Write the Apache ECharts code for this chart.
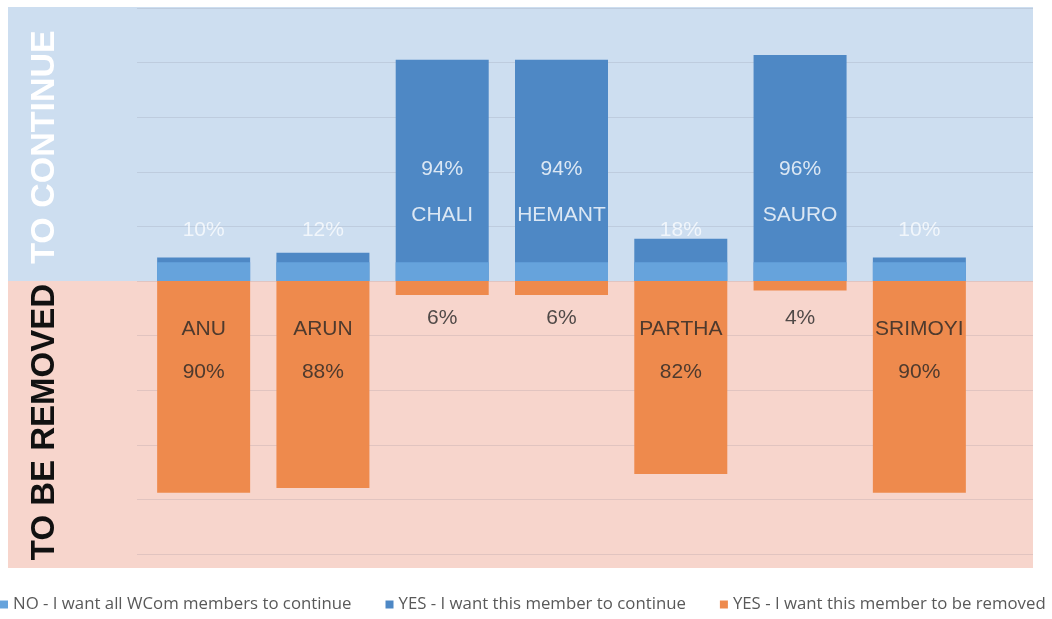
<!DOCTYPE html>
<html>
<head>
<meta charset="utf-8">
<script src="https://cdn.jsdelivr.net/npm/echarts@6/dist/echarts.min.js"></script>
<style>
    html, body { margin: 0; padding: 0; background: #fff; }
    #main { width: 1052px; height: 619px; }
</style>
</head>
<body>
<div id="main"></div>
<script>
// members
var members = ['ANU', 'ARUN', 'CHALI', 'HEMANT', 'PARTHA', 'SAURO', 'SRIMOYI'];
// YES - continue (%)
var continuePct = [10, 12, 94, 94, 18, 96, 10];
// YES - removed (%)
var removePct = [90, 88, 6, 6, 82, 4, 90];
// NO - all continue (light blue strip)
var noPct = [8, 8, 8, 8, 8, 8, 8];

var seriesNames = [
    'NO - I want all WCom members to continue',
    'YES - I want this member to continue',
    'YES - I want this member to be removed'
];

var colLight = '#66a3dc';
var colBlue = '#4e88c5';
var colOrange = '#ee8a4d';
var bgBlue = '#cddef0';
var bgPink = '#f7d5cc';

// label rows, in axis units
var rowBigPct = 47.4, rowBigName = 28, rowSmallPct = 21.7;
var rowOrangeSmall = -15.7, rowOrangeName = -20.6, rowOrangePct = -38.7;

var labelFont = {
    fontFamily: 'Liberation Sans, Arial, sans-serif',
    fontSize: 21
};

function labelPoint(i, y, text, color) {
    return {
        value: [members[i], y],
        label: Object.assign({ show: true, position: 'inside', formatter: text, color: color }, labelFont)
    };
}

var labelData = [];
members.forEach(function(m, i) {
    if (continuePct[i] > removePct[i]) {
        labelData.push(labelPoint(i, rowBigPct, continuePct[i] + '%', '#fff'));
        labelData.push(labelPoint(i, rowBigName, m, '#fff'));
        labelData.push(labelPoint(i, rowOrangeSmall, removePct[i] + '%', '#262626'));
    } else {
        labelData.push(labelPoint(i, rowSmallPct, continuePct[i] + '%', 'rgba(255,255,255,0.9)'));
        labelData.push(labelPoint(i, rowOrangeName, m, '#262626'));
        labelData.push(labelPoint(i, rowOrangePct, removePct[i] + '%', '#262626'));
    }
});

var yMin = -116, yMax = 116, yStep = 23.2;

var myChart = echarts.init(document.getElementById('main'));

var option = {
    animation: false,
    grid: [{
        left: 144,
        right: 73,
        top: 8,
        bottom: 65
    }, {
        left: 137,
        right: 19,
        top: 8,
        bottom: 65
    }],
    legend: {
        data: seriesNames,
        left: 0,
        top: 596,
        width: 1080,
        padding: 0,
        icon: 'rect',
        itemWidth: 8,
        itemHeight: 8,
        itemGap: 34,
        textStyle: {
            color: '#595959',
            fontFamily: 'Open Sans, sans-serif',
            fontSize: 16.8
        }
    },
    xAxis: [{
        type: 'category',
        gridIndex: 0,
        data: members,
        axisLine: { show: false },
        axisTick: { show: false },
        axisLabel: { show: false }
    }, {
        type: 'value',
        gridIndex: 1,
        show: false
    }],
    yAxis: [{
        type: 'value',
        gridIndex: 0,
        min: yMin,
        max: yMax,
        interval: yStep,
        axisLine: { show: false },
        axisTick: { show: false },
        axisLabel: { show: false },
        splitLine: { show: false }
    }, {
        type: 'value',
        gridIndex: 1,
        min: yMin,
        max: yMax,
        interval: yStep,
        axisLine: { show: false },
        axisTick: { show: false },
        axisLabel: { show: false },
        splitLine: {
            show: true,
            lineStyle: { color: 'rgba(110,110,130,0.16)', width: 1 }
        }
    }],
    series: [{
        name: seriesNames[0],
        type: 'bar',
        barWidth: 93,
        barGap: '-100%',
        z: 4,
        itemStyle: { color: colLight },
        data: noPct
    }, {
        name: seriesNames[1],
        type: 'bar',
        barWidth: 93,
        barGap: '-100%',
        z: 3,
        itemStyle: { color: colBlue },
        data: continuePct
    }, {
        name: seriesNames[2],
        type: 'bar',
        barWidth: 93,
        barGap: '-100%',
        z: 3,
        itemStyle: { color: colOrange },
        data: removePct.map(function(v) { return -v; })
    }, {
        name: 'labels',
        type: 'scatter',
        symbolSize: 0,
        silent: true,
        z: 6,
        data: labelData
    }]
};

myChart.setOption(option);

// background bands split at the zero line
var zeroY = myChart.convertToPixel({ yAxisIndex: 0 }, 0);
myChart.setOption({
    graphic: [{
        type: 'rect',
        z: -10,
        shape: { x: 8, y: 7, width: 1025, height: zeroY - 7 },
        style: { fill: bgBlue }
    }, {
        type: 'rect',
        z: -10,
        shape: { x: 8, y: zeroY, width: 1025, height: 568 - zeroY },
        style: { fill: bgPink }
    }, {
        type: 'text',
        z: 10,
        x: 45,
        y: 147,
        rotation: Math.PI / 2,
        style: {
            text: 'TO CONTINUE',
            fill: '#fff',
            font: 'bold 34px "Liberation Sans", Arial, sans-serif',
            textAlign: 'center',
            textVerticalAlign: 'middle'
        }
    }, {
        type: 'text',
        z: 10,
        x: 45,
        y: 422,
        rotation: Math.PI / 2,
        style: {
            text: 'TO BE REMOVED',
            fill: '#111',
            font: 'bold 33px "Liberation Sans", Arial, sans-serif',
            textAlign: 'center',
            textVerticalAlign: 'middle'
        }
    }]
});
</script>
</body>
</html>
